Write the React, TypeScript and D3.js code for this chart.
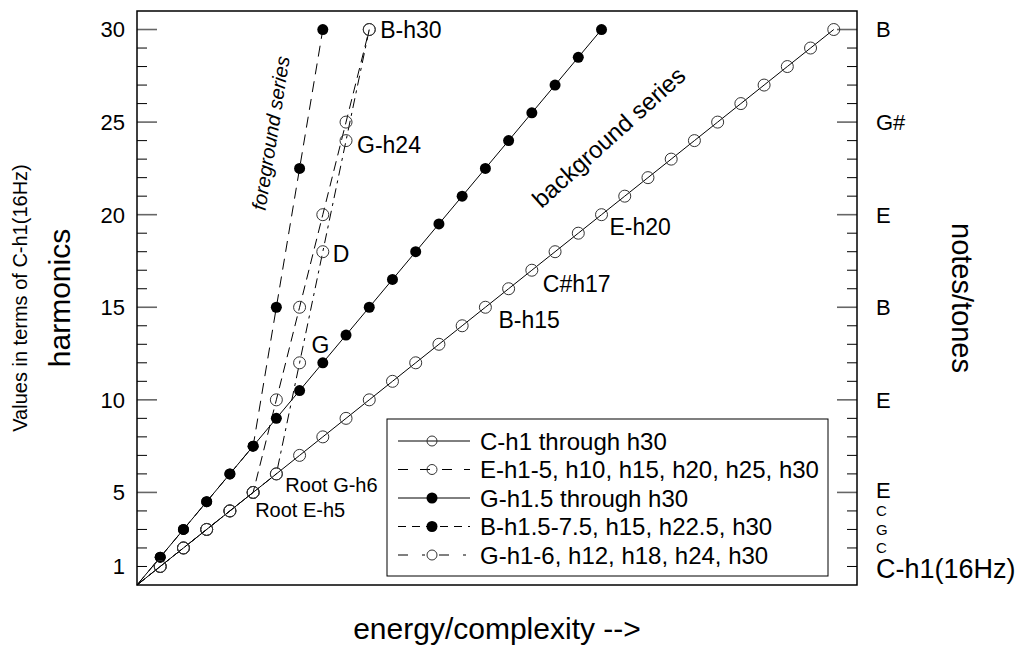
import React from "react";
import * as d3 from "d3";

const W = 1025;
const H = 648;
const M = { left: 137, right: 168, top: 11, bottom: 63 };

// y axis
const harmonicLabels = [1, 5, 10, 15, 20, 25, 30];
const harmonicTicks = [1, 2, 3, 4, 5, 6, 7, 8, 9, 10, 11, 12, 13, 14, 15, 16, 17, 18, 19, 20, 21, 22, 23, 24, 25, 26, 27, 28, 29, 30];
const majorTicks = [5, 10, 15, 20, 25, 30];

// right axis note names
const noteValues = [1, 2, 3, 4, 5, 10, 15, 20, 25, 30];
const noteNames = ["C-h1(16Hz)", "C", "G", "C", "E", "E", "B", "E", "G#", "B"];
const noteSmall = [false, true, true, true, false, false, false, false, false, false];

// series: step (x) and harmonic value (y)
const cSteps = [1, 2, 3, 4, 5, 6, 7, 8, 9, 10, 11, 12, 13, 14, 15, 16, 17, 18, 19, 20, 21, 22, 23, 24, 25, 26, 27, 28, 29, 30];
const cValues = [1, 2, 3, 4, 5, 6, 7, 8, 9, 10, 11, 12, 13, 14, 15, 16, 17, 18, 19, 20, 21, 22, 23, 24, 25, 26, 27, 28, 29, 30];
const eSteps = [1, 2, 3, 4, 5, 6, 7, 8, 9, 10];
const eValues = [1, 2, 3, 4, 5, 10, 15, 20, 25, 30];
const gSteps = [1, 2, 3, 4, 5, 6, 7, 8, 9, 10, 11, 12, 13, 14, 15, 16, 17, 18, 19, 20];
const gValues = [1.5, 3, 4.5, 6, 7.5, 9, 10.5, 12, 13.5, 15, 16.5, 18, 19.5, 21, 22.5, 24, 25.5, 27, 28.5, 30];
const bSteps = [1, 2, 3, 4, 5, 6, 7, 8];
const bValues = [1.5, 3, 4.5, 6, 7.5, 15, 22.5, 30];
const g2Steps = [1, 2, 3, 4, 5, 6, 7, 8, 9, 10];
const g2Values = [1, 2, 3, 4, 5, 6, 12, 18, 24, 30];

const series = [
  { name: "C-h1 through h30", steps: cSteps, values: cValues, filled: false, dash: "none", legendDash: "none" },
  { name: "E-h1-5, h10, h15, h20, h25, h30", steps: eSteps, values: eValues, filled: false, dash: "10,6", legendDash: "10,12" },
  { name: "G-h1.5 through h30", steps: gSteps, values: gValues, filled: true, dash: "none", legendDash: "none" },
  { name: "B-h1.5-7.5, h15, h22.5, h30", steps: bSteps, values: bValues, filled: true, dash: "11,7", legendDash: "8,6" },
  { name: "G-h1-6, h12, h18, h24, h30", steps: g2Steps, values: g2Values, filled: false, dash: "10,5,3,5", legendDash: "10,14,3,14" },
];

// point annotations: [label, step, value, dx, dy, size]
const notes: [string, number, number, number, number, number][] = [
  ["B-h30", 10, 30, 11, 8, 23],
  ["G-h24", 9, 24, 11, 12, 23],
  ["D", 8, 18, 10, 10, 23],
  ["G", 7, 12, 12, -10, 23],
  ["Root G-h6", 6, 6, 9, 18, 20],
  ["Root E-h5", 5, 5, 2, 25, 20],
  ["E-h20", 20, 20, 8, 20, 23],
  ["C#h17", 17, 17, 11, 22, 23],
  ["B-h15", 15, 15, 13, 21, 23],
];

const FONT = "'Liberation Sans', Arial, Helvetica, sans-serif";

export default function App() {
  const x = d3.scaleLinear().domain([0, 31]).range([M.left, W - M.right]);
  const y = d3.scaleLinear().domain([0, 31]).range([H - M.bottom, M.top]);
  const line = d3
    .line<[number, number]>()
    .x((d) => x(d[0]))
    .y((d) => y(d[1]));

  const legX = 387;
  const legY = 419;
  const rowH = 28.5;

  return (
    <svg width={W} height={H} style={{ position: "absolute", left: 0, top: 0, background: "#fff" }} fontFamily={FONT}>
      <rect x={0} y={0} width={W} height={H} fill="#fff" />

      {/* ticks */}
      {harmonicTicks.map((t) => {
        const major = majorTicks.includes(t);
        const len = major ? 20 : 10;
        return (
          <g key={t} stroke={major ? "#666" : "#000"} strokeWidth={major ? 1.6 : 1}>
            <line x1={x(0)} x2={x(0) + len} y1={y(t)} y2={y(t)} />
            <line x1={x(31) - len} x2={x(31)} y1={y(t)} y2={y(t)} />
          </g>
        );
      })}

      {/* left labels */}
      {harmonicLabels.map((t) => (
        <text key={t} x={x(0) - 12} y={y(t)} dy="0.36em" textAnchor="end" fontSize={22}>
          {t}
        </text>
      ))}

      {/* right labels */}
      {noteValues.map((v, i) => (
        <text
          key={i}
          x={x(31) + 19}
          y={y(v) + (i === 0 ? 2 : i === 4 ? -2 : 0)}
          dy="0.36em"
          fontSize={i === 0 ? 27 : noteSmall[i] ? 15 : 22}
        >
          {noteNames[i]}
        </text>
      ))}

      {/* series lines */}
      {series.map((s) => {
        const pts: [number, number][] = [[0, 0], ...s.steps.map((st, i) => [st, s.values[i]] as [number, number])];
        return (
          <path key={s.name} d={line(pts) ?? ""} fill="none" stroke="#000" strokeWidth={1} strokeDasharray={s.dash} />
        );
      })}

      {/* markers */}
      {series.map((s) =>
        s.steps.map((st, i) =>
          s.filled ? (
            <circle key={s.name + i} cx={x(st)} cy={y(s.values[i])} r={5.5} fill="#000" />
          ) : (
            <circle key={s.name + i} cx={x(st)} cy={y(s.values[i])} r={6} fill="none" stroke="#333" strokeWidth={1} />
          )
        )
      )}

      {/* annotations */}
      {notes.map(([label, st, v, dx, dy, size]) => (
        <text key={label} x={x(st) + dx} y={y(v) + dy} fontSize={size}>
          {label}
        </text>
      ))}
      <text
        transform={`translate(${x(5.75)},${y(24.4)}) rotate(-81)`}
        textAnchor="middle"
        dy="0.36em"
        fontSize={20}
        fontStyle="italic"
      >
        foreground series
      </text>
      <text transform={`translate(${x(20.3)},${y(24.2)}) rotate(-42)`} textAnchor="middle" dy="0.36em" fontSize={24}>
        background series
      </text>

      {/* legend */}
      <rect x={legX} y={legY} width={441} height={157} fill="#fff" stroke="#000" strokeWidth={1} />
      {series.map((s, i) => {
        const ry = legY + 22 + i * rowH;
        return (
          <g key={s.name}>
            <line x1={legX + 11} x2={legX + 83} y1={ry} y2={ry} stroke="#000" strokeDasharray={s.legendDash} />
            {s.filled ? (
              <circle cx={legX + 45} cy={ry} r={5.5} fill="#000" />
            ) : (
              <circle cx={legX + 45} cy={ry} r={5} fill="none" stroke="#333" />
            )}
            <text x={legX + 93} y={ry} dy="0.36em" fontSize={24}>
              {s.name}
            </text>
          </g>
        );
      })}

      {/* frame */}
      <rect x={x(0)} y={y(31)} width={x(31) - x(0)} height={y(0) - y(31)} fill="none" stroke="#000" strokeWidth={1.5} />

      {/* axis titles */}
      <text x={(x(0) + x(31)) / 2} y={H - 20} dy="0.36em" textAnchor="middle" fontSize={30}>
        energy/complexity --&gt;
      </text>
      <text transform={`translate(59,${(y(0) + y(31)) / 2}) rotate(-90)`} textAnchor="middle" dy="0.36em" fontSize={30}>
        harmonics
      </text>
      <text transform={`translate(20,${(y(0) + y(31)) / 2}) rotate(-90)`} textAnchor="middle" dy="0.36em" fontSize={20}>
        Values in terms of C-h1(16Hz)
      </text>
      <text transform={`translate(962,${(y(0) + y(31)) / 2}) rotate(90)`} textAnchor="middle" dy="0.36em" fontSize={29}>
        notes/tones
      </text>
    </svg>
  );
}
